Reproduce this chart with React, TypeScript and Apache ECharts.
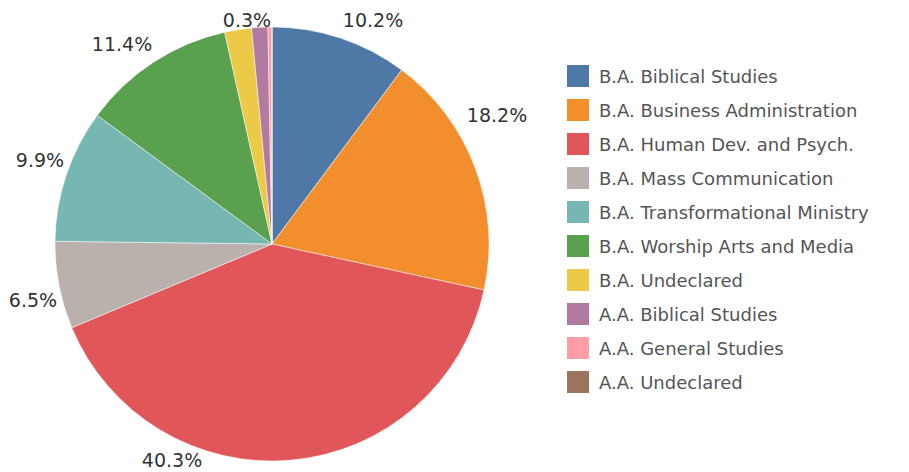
import React, { useEffect, useRef } from "react";
import * as echarts from "echarts";

const categories = [
  "B.A. Biblical Studies",
  "B.A. Business Administration",
  "B.A. Human Dev. and Psych.",
  "B.A. Mass Communication",
  "B.A. Transformational Ministry",
  "B.A. Worship Arts and Media",
  "B.A. Undeclared",
  "A.A. Biblical Studies",
  "A.A. General Studies",
  "A.A. Undeclared",
];
const values = [10.2, 18.2, 40.3, 6.5, 9.9, 11.4, 2.0, 1.2, 0.3, 0];
const showLabel = [true, true, true, true, true, true, false, false, true, false];
const colors = [
  "#4e79a7", "#f28e2b", "#e15759", "#bab0ac", "#76b7b2",
  "#59a14f", "#edc948", "#b07aa1", "#ff9da7", "#9c755f",
];
// label anchor positions (layout only, in chart pixels)
const labelPos: ([number, number] | null)[] = [
  [365, 11.5],
  [489, 107],
  [164, 452],
  [25, 292],
  [32, 151.5],
  [114, 36],
  null,
  null,
  [239, 11.5],
  null,
];

export default function App() {
  const ref = useRef<HTMLDivElement>(null);
  useEffect(() => {
    if (!ref.current) return;
    const chart = echarts.init(ref.current, undefined, { renderer: "svg" });
    const total = values.reduce((a, b) => a + b, 0);
    chart.setOption({
      animation: false,
      color: colors,
      textStyle: { fontFamily: "'DejaVu Sans', sans-serif" },
      legend: {
        orient: "vertical",
        left: 552,
        top: 50,
        padding: 5,
        icon: "rect",
        itemWidth: 24,
        itemHeight: 24,
        itemGap: 8,
        data: categories,
        selectedMode: false,
        textStyle: { fontSize: 18, color: "#555", padding: [0, 0, 0, 4], lineHeight: 24 },
      },
      series: [
        {
          type: "pie",
          center: [264, 236],
          radius: [0, 217],
          startAngle: 90,
          clockwise: true,
          avoidLabelOverlap: false,
          stillShowZeroSum: false,
          itemStyle: { borderColor: "#fff", borderWidth: 0.5 },
          label: {
            show: true,
            position: "outside",
            fontSize: 19,
            color: "#333",
            formatter: (p: any) => ((p.value / total) * 100).toFixed(1) + "%",
          },
          labelLine: { show: false, length: 4, length2: 0 },
          labelLayout: (params: any) => {
            const pos = labelPos[params.dataIndex];
            if (!pos) return {};
            return { x: pos[0], y: pos[1], align: "center", verticalAlign: "middle" };
          },
          emphasis: { disabled: true },
          data: categories.map((name, i) => ({
            name,
            value: values[i],
            label: { show: showLabel[i] },
          })),
        },
      ],
    });
    return () => chart.dispose();
  }, []);
  return <div ref={ref} style={{ width: 893, height: 464 }} />;
}
